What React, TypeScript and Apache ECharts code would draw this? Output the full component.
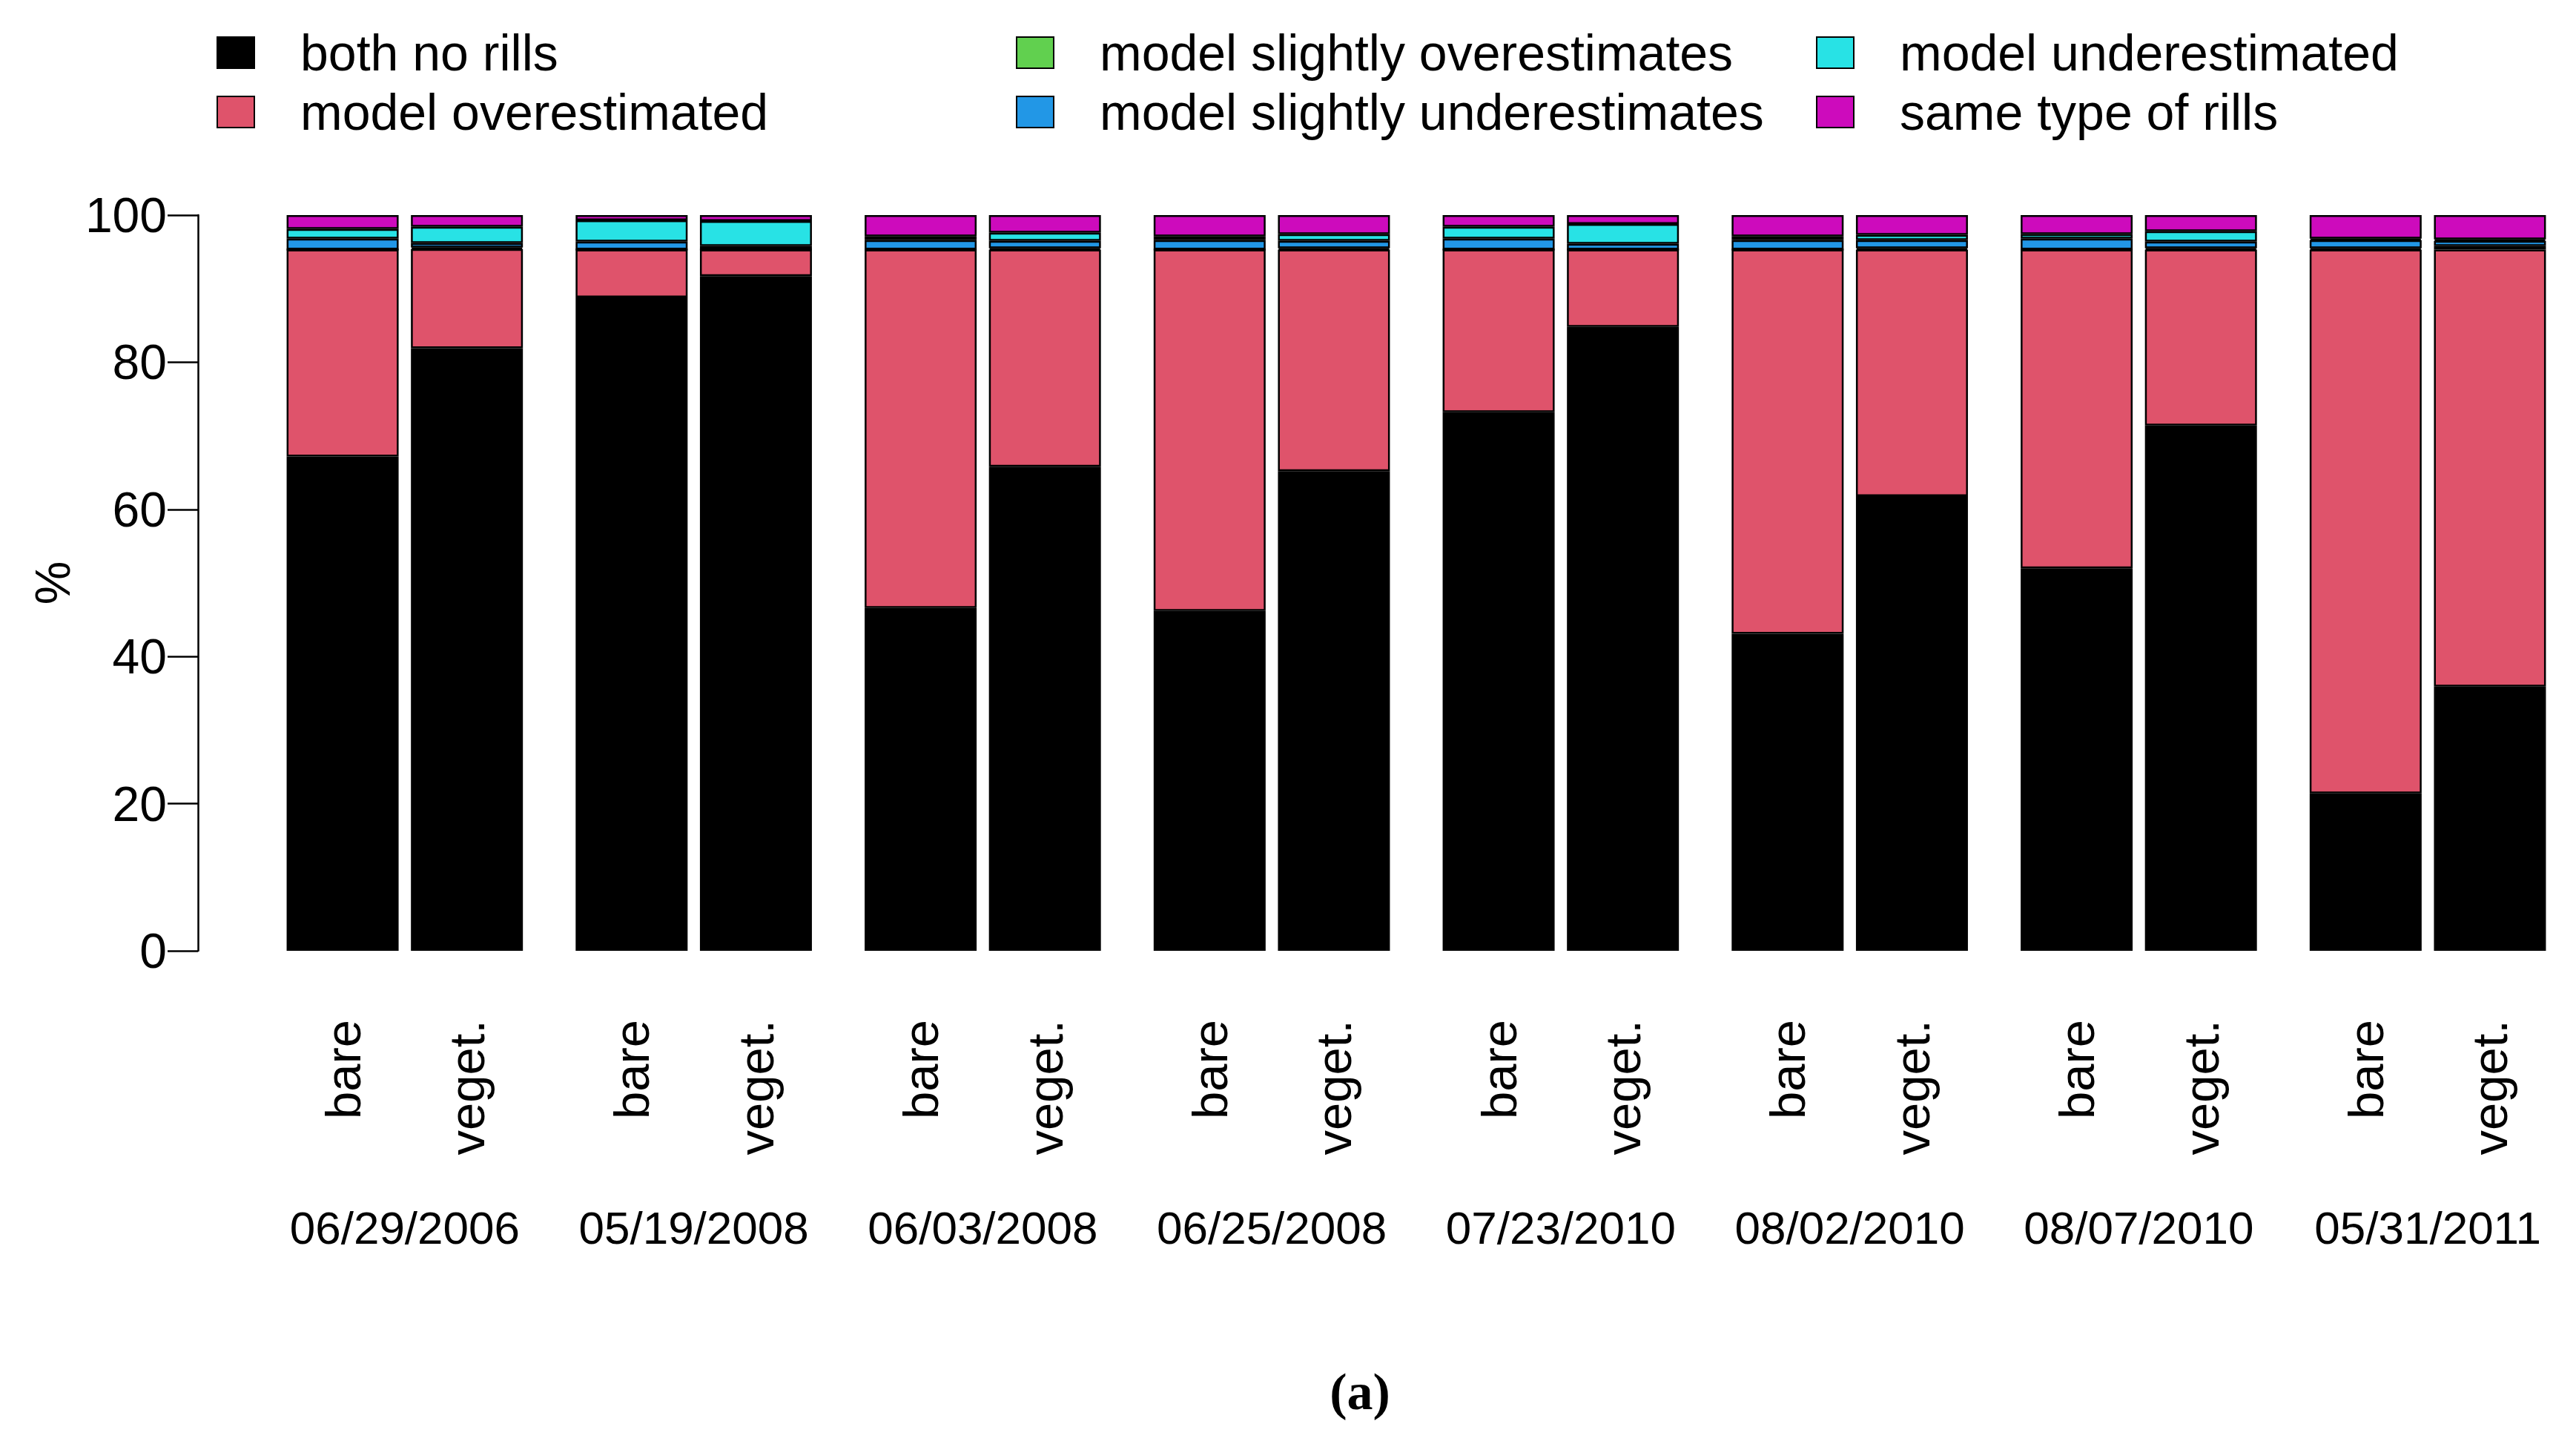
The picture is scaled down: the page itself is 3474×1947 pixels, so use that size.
import React, { useEffect, useRef } from "react";
import * as echarts from "echarts";

const categories = ["06/29/2006", "05/19/2008", "06/03/2008", "06/25/2008", "07/23/2010", "08/02/2010", "08/07/2010", "05/31/2011"];
const seriesNames = ["both no rills", "model overestimated", "model slightly overestimates", "model slightly underestimates", "model underestimated", "same type of rills"];
const colors = ["#000000", "#DF536B", "#61D04F", "#2297E6", "#28E2E5", "#CD0BBC"];
const yTicks = [0, 20, 40, 60, 80, 100];

// bare soil
const bareNoRills = [67.2, 88.8, 46.6, 46.2, 73.2, 43.1, 52.0, 21.4];
const bareOver = [28.1, 6.5, 48.7, 49.1, 22.1, 52.2, 43.3, 73.9];
const bareSlightOver = [0, 0, 0, 0, 0, 0, 0, 0.2];
const bareSlightUnder = [1.5, 1.1, 1.3, 1.3, 1.5, 1.3, 1.5, 1.1];
const bareUnder = [1.3, 2.9, 0.5, 0.5, 1.6, 0.5, 0.6, 0.2];
const bareSame = [1.9, 0.7, 2.9, 2.9, 1.6, 2.9, 2.6, 3.2];

// vegetated
const vegNoRills = [81.9, 91.7, 65.8, 65.2, 84.8, 61.8, 71.4, 35.9];
const vegOver = [13.5, 3.6, 29.5, 30.1, 10.5, 33.5, 23.9, 59.4];
const vegSlightOver = [0.2, 0, 0.2, 0.2, 0, 0.2, 0.2, 0.5];
const vegSlightUnder = [0.6, 0.5, 1.0, 1.0, 0.8, 1.1, 0.9, 0.7];
const vegUnder = [2.2, 3.4, 1.1, 0.9, 2.7, 0.7, 1.4, 0.2];
const vegSame = [1.6, 0.8, 2.4, 2.6, 1.2, 2.7, 2.2, 3.3];

const bareData = [bareNoRills, bareOver, bareSlightOver, bareSlightUnder, bareUnder, bareSame];
const vegData = [vegNoRills, vegOver, vegSlightOver, vegSlightUnder, vegUnder, vegSame];

export default function App() {
  const ref = useRef<HTMLDivElement>(null);
  useEffect(() => {
    if (!ref.current) return;
    const chart = echarts.init(ref.current, null, { renderer: "svg" });
    const mk = (stack: string, arr: number[][]) =>
      arr.map((d, i) => ({
        type: "bar",
        name: seriesNames[i],
        stack,
        data: d,
        barWidth: 151,
        barGap: "11%",
        itemStyle: { color: colors[i], borderColor: "#000", borderWidth: 2.5 },
        emphasis: { disabled: true },
      }));
    const sans = "Liberation Sans, Arial";
    const legendText = { fontFamily: sans, fontSize: 68, color: "#000", lineHeight: 68, padding: [0, 0, 0, 57] };
    const legendCommon = {
      orient: "vertical",
      top: 37,
      padding: 0,
      itemWidth: 50,
      itemHeight: 42,
      itemGap: 12,
      icon: "rect",
      textStyle: legendText,
      selectedMode: false,
    };
    chart.setOption({
      animation: false,
      backgroundColor: "#fff",
      title: {
        text: "(a)",
        left: 1829,
        top: 1836,
        textAlign: "center",
        textStyle: { fontFamily: "Liberation Serif, Times New Roman", fontSize: 70, fontWeight: "bold", color: "#000" },
      },
      legend: [
        { ...legendCommon, left: 292, data: [seriesNames[0], seriesNames[1]] },
        { ...legendCommon, left: 1370, data: [seriesNames[2], seriesNames[3]] },
        { ...legendCommon, left: 2449, data: [seriesNames[4], seriesNames[5]] },
      ],
      grid: { left: 351, right: 5, top: 290, bottom: 665, containLabel: false },
      xAxis: [
        {
          type: "category",
          data: categories,
          position: "bottom",
          axisLine: { show: false },
          axisTick: { show: false },
          axisLabel: {
            rotate: 90,
            interval: 0,
            margin: 93,
            formatter: () => "bare\nveget.",
            fontFamily: sans,
            fontSize: 67,
            lineHeight: 167.5,
            color: "#000",
          },
        },
        {
          type: "category",
          data: categories,
          position: "bottom",
          axisLine: { show: false },
          axisTick: { show: false },
          axisLabel: {
            interval: 0,
            margin: 342,
            fontFamily: sans,
            fontSize: 62,
            color: "#000",
          },
        },
      ],
      yAxis: {
        type: "value",
        min: yTicks[0],
        max: yTicks[yTicks.length - 1],
        interval: 20,
        offset: 84,
        name: "%",
        nameLocation: "middle",
        nameGap: 163,
        nameTextStyle: { fontFamily: sans, fontSize: 66, color: "#000" },
        splitLine: { show: false },
        axisLine: { show: true, lineStyle: { color: "#000", width: 2.5 } },
        axisTick: { show: true, length: 41, lineStyle: { color: "#000", width: 2.5 } },
        axisLabel: { fontFamily: sans, fontSize: 66, color: "#000", margin: 42 },
      },
      series: [...mk("bare", bareData), ...mk("veget", vegData)],
    });
    return () => chart.dispose();
  }, []);
  return <div ref={ref} style={{ position: "absolute", left: 0, top: 0, width: 3474, height: 1947 }} />;
}
